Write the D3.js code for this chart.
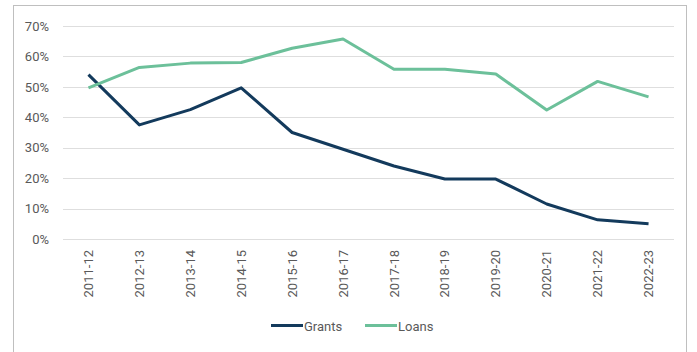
<!DOCTYPE html>
<html>
<head>
<meta charset="utf-8">
<script src="https://cdn.jsdelivr.net/npm/d3@7"></script>
<style>
  html, body { margin: 0; padding: 0; background: #fff; }
  svg { display: block; font-family: Roboto, "Noto Sans", sans-serif; }
</style>
</head>
<body>
<svg id="chart" width="697" height="352"></svg>
<script>
const categories = ["2011-12","2012-13","2013-14","2014-15","2015-16","2016-17","2017-18","2018-19","2019-20","2020-21","2021-22","2022-23"];
const grants = [54, 37.5, 42.5, 49.7, 35, 29.5, 24, 19.7, 19.7, 11.5, 6.3, 5];
const loans  = [49.7, 56.4, 57.8, 58, 62.7, 65.7, 55.8, 55.8, 54.2, 42.4, 51.8, 46.7];
const yTicks = [0, 10, 20, 30, 40, 50, 60, 70];
const seriesNames = ["Grants", "Loans"];
const colors = ["#133a5c", "#6cc09a"];

const svg = d3.select("#chart");

// outer frame
svg.append("rect")
  .attr("x", 13.5).attr("y", 5.5)
  .attr("width", 673).attr("height", 360)
  .attr("fill", "none").attr("stroke", "#bfbfbf").attr("stroke-width", 1);

const x = d3.scaleBand().domain(categories).range([63, 674]);
const y = d3.scaleLinear().domain([0, 70]).range([239, 26]);

// gridlines
svg.append("g").selectAll("line").data(yTicks).join("line")
  .attr("x1", 63).attr("x2", 674)
  .attr("y1", d => Math.round(y(d)) + 0.5).attr("y2", d => Math.round(y(d)) + 0.5)
  .attr("stroke", "#dedede").attr("stroke-width", 1);

// y axis labels
const yAxis = svg.append("g").attr("transform", "translate(63,0)")
  .call(d3.axisLeft(y).tickValues(yTicks).tickFormat(d => d + "%").tickSize(0).tickPadding(14));
yAxis.select(".domain").remove();
yAxis.selectAll("text").attr("fill", "#595959").style("font-size", "13px").style("font-family", "Roboto, sans-serif");

// x axis labels
const xAxis = svg.append("g").attr("transform", "translate(0,239)")
  .call(d3.axisBottom(x).tickSize(0).tickPadding(0));
xAxis.select(".domain").remove();
xAxis.selectAll("text")
  .attr("fill", "#595959").style("font-size", "13px").style("font-family", "Roboto, sans-serif")
  .attr("transform", "rotate(-90)")
  .attr("text-anchor", "end")
  .attr("x", -11).attr("y", 0).attr("dy", "0.35em");

// lines
const line = d3.line()
  .x((d, i) => x(categories[i]) + x.bandwidth() / 2)
  .y(d => y(d));

[grants, loans].forEach((s, k) => {
  svg.append("path").datum(s)
    .attr("fill", "none")
    .attr("stroke", colors[k])
    .attr("stroke-width", 3)
    .attr("stroke-linejoin", "round")
    .attr("d", line);
});

// legend
const legendX = [271, 365];
const legend = svg.append("g");
seriesNames.forEach((n, k) => {
  legend.append("line")
    .attr("x1", legendX[k]).attr("x2", legendX[k] + 32)
    .attr("y1", 325.5).attr("y2", 325.5)
    .attr("stroke", colors[k]).attr("stroke-width", 3);
  legend.append("text")
    .attr("x", legendX[k] + 33).attr("y", 326)
    .attr("dy", "0.35em")
    .attr("fill", "#595959").style("font-size", "13px")
    .text(n);
});
</script>
</body>
</html>
